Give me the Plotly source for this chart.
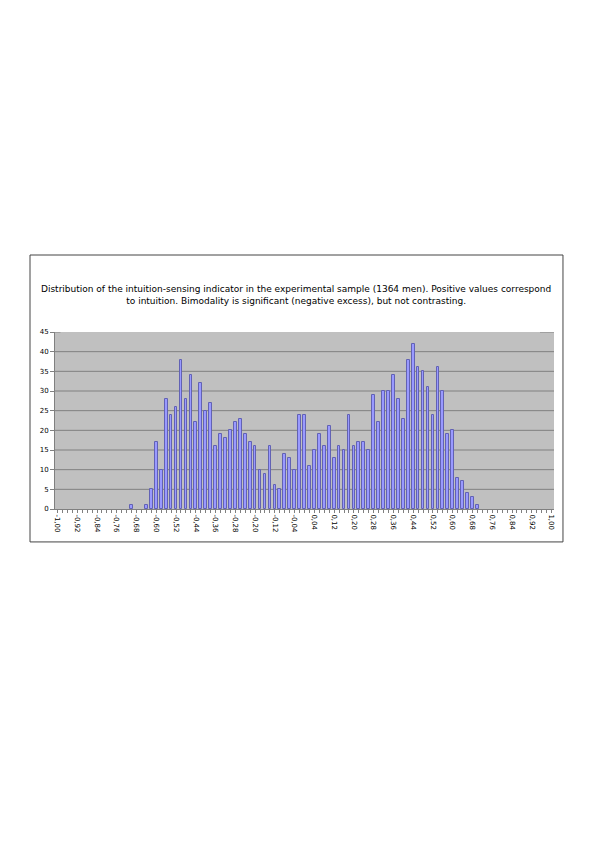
import plotly.graph_objects as go

# Bin centres (step 0.02 from -1.00 to 1.00)
categories = [round(-1.0 + 0.02 * i, 2) for i in range(101)]

counts = [
    0, 0, 0, 0, 0, 0, 0, 0, 0, 0,
    0, 0, 0, 0, 0, 1, 0, 0, 1, 5,
    17, 10, 28, 24, 26, 38, 28, 34, 22, 32,
    25, 27, 16, 19, 18, 20, 22, 23, 19, 17,
    16, 10, 9, 16, 6, 5, 14, 13, 10, 24,
    24, 11, 15, 19, 16, 21, 13, 16, 15, 24,
    16, 17, 17, 15, 29, 22, 30, 30, 34, 28,
    23, 38, 42, 36, 35, 31, 24, 36, 30, 19,
    20, 8, 7, 4, 3, 1, 0, 0, 0, 0,
    0, 0, 0, 0, 0, 0, 0, 0, 0, 0,
    0,
]

tick_values = [-1.00, -0.92, -0.84, -0.76, -0.68, -0.60, -0.52, -0.44, -0.36,
               -0.28, -0.20, -0.12, -0.04, 0.04, 0.12, 0.20, 0.28, 0.36, 0.44,
               0.52, 0.60, 0.68, 0.76, 0.84, 0.92, 1.00]
tick_labels = ["-1,00", "-0,92", "-0,84", "-0,76", "-0,68", "-0,60", "-0,52",
               "-0,44", "-0,36", "-0,28", "-0,20", "-0,12", "-0,04", "0,04",
               "0,12", "0,20", "0,28", "0,36", "0,44", "0,52", "0,60", "0,68",
               "0,76", "0,84", "0,92", "1,00"]

y_ticks = [0, 5, 10, 15, 20, 25, 30, 35, 40, 45]

title_lines = [
    "Distribution of the intuition-sensing indicator in the experimental sample (1364 men). Positive values correspond",
    "to intuition. Bimodality is significant (negative excess), but not contrasting.",
]

bar_y = [v if v != 0 else None for v in counts]

fig = go.Figure()
fig.add_trace(go.Bar(
    x=categories, y=bar_y, width=0.011,
    marker=dict(color="#9999FF", line=dict(color="#6262B4", width=1)),
    showlegend=False, hoverinfo="x+y",
))

shapes = []
# horizontal gridlines (not at top edge)
for v in y_ticks[1:-1]:
    shapes.append(dict(type="line", xref="paper", yref="y", x0=0, x1=1, y0=v, y1=v,
                       line=dict(color="#808080", width=1), layer="below"))
# short segments at the top level
shapes.append(dict(type="line", xref="paper", yref="y", x0=0, x1=0.011, y0=45, y1=45,
                   line=dict(color="#808080", width=1)))
shapes.append(dict(type="line", xref="paper", yref="y", x0=0.972, x1=1, y0=45, y1=45,
                   line=dict(color="#808080", width=1)))
# outer frame
shapes.append(dict(type="rect", xref="paper", yref="paper",
                   x0=-0.0501, x1=1.018, y0=-0.186, y1=1.435,
                   line=dict(color="#444444", width=1), fillcolor="rgba(0,0,0,0)"))

fig.update_layout(
    width=587, height=834,
    margin=dict(l=47, r=41, t=324, b=333),
    paper_bgcolor="white", plot_bgcolor="#C0C0C0",
    font=dict(family="DejaVu Sans", color="black"),
    bargap=0,
    shapes=shapes,
    annotations=[dict(
        xref="paper", yref="paper", x=0.4835, y=1.283, xanchor="center", yanchor="top",
        text="<br>".join(title_lines), showarrow=False, align="center",
        font=dict(family="DejaVu Sans", size=9, color="black"),
    )],
    xaxis=dict(
        range=[-1.01, 1.01], tickmode="array", tickvals=tick_values, ticktext=tick_labels,
        tickangle=90, tickfont=dict(size=7, family="DejaVu Sans"),
        ticks="outside", ticklen=3, tickcolor="#808080",
        showgrid=False, zeroline=False,
        showline=True, linecolor="#808080", linewidth=1,
        minor=dict(dtick=0.02, tick0=-1.0, ticks="outside", ticklen=3,
                   tickcolor="#808080", showgrid=False),
    ),
    yaxis=dict(
        range=[0, 45], tickmode="array", tickvals=y_ticks,
        tickfont=dict(size=7, family="DejaVu Sans"),
        ticks="outside", ticklen=4, tickcolor="#808080",
        showgrid=False, zeroline=False,
        showline=True, linecolor="#808080", linewidth=1,
    ),
)

fig.write_html("out.html")
